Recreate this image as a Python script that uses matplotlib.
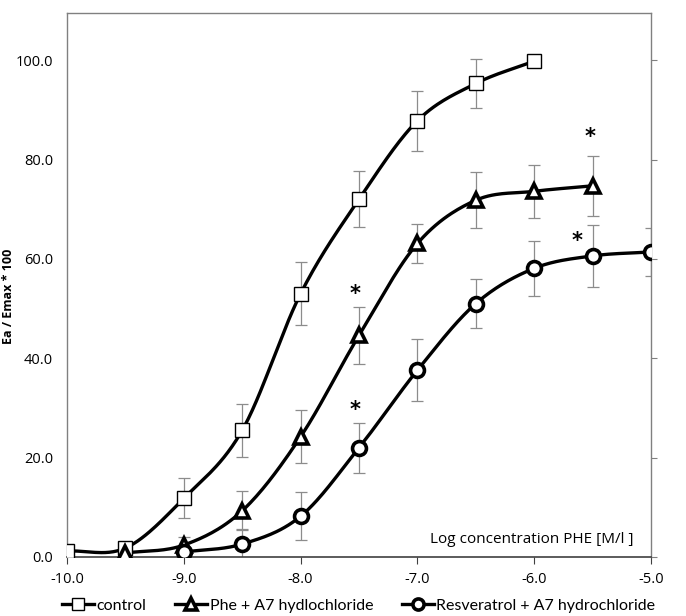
import matplotlib
matplotlib.use("Agg")
import matplotlib.pyplot as plt
import numpy as np

plt.rcParams["font.family"] = ["Open Sans", "DejaVu Sans"]

# log concentration PHE [M/l]
x_control = [-10.0, -9.5, -9.0, -8.5, -8.0, -7.5, -7.0, -6.5, -6.0]
y_control = [1.2, 1.8, 11.8, 25.5, 53.0, 72.0, 87.8, 95.3, 99.8]
e_control = [0.0, 0.0, 4.0, 5.3, 6.3, 5.6, 6.0, 5.0, 0.0]

x_phe = [-9.5, -9.0, -8.5, -8.0, -7.5, -7.0, -6.5, -6.0, -5.5]
y_phe = [0.8, 2.4, 9.3, 24.2, 44.6, 63.1, 71.8, 73.6, 74.7]
e_phe = [0.0, 1.6, 3.9, 5.3, 5.8, 3.9, 5.6, 5.3, 6.1]

x_res = [-9.0, -8.5, -8.0, -7.5, -7.0, -6.5, -6.0, -5.5, -5.0]
y_res = [1.0, 2.6, 8.2, 22.0, 37.6, 51.0, 58.1, 60.6, 61.4]
e_res = [0.0, 3.0, 4.8, 5.0, 6.2, 4.9, 5.5, 6.2, 4.9]

# significance marks (x, y)
star_x = [-7.53, -7.53, -5.52, -5.63]
star_y = [53.0, 29.5, 84.5, 63.5]

x_ticks = [-10.0, -9.0, -8.0, -7.0, -6.0, -5.0]
y_ticks = [0, 20, 40, 60, 80, 100]


def smooth(x, y, n=30):
    """Catmull-Rom curve through the points, like Excel's smoothed line."""
    x = np.asarray(x, float)
    y = np.asarray(y, float)
    px = np.concatenate([[2 * x[0] - x[1]], x, [2 * x[-1] - x[-2]]])
    py = np.concatenate([[2 * y[0] - y[1]], y, [2 * y[-1] - y[-2]]])
    t = np.linspace(0, 1, n)
    xs, ys = [], []
    for i in range(1, len(px) - 2):
        for p, out in ((px, xs), (py, ys)):
            p0, p1, p2, p3 = p[i - 1], p[i], p[i + 1], p[i + 2]
            out.append(0.5 * (2 * p1 + (-p0 + p2) * t
                              + (2 * p0 - 5 * p1 + 4 * p2 - p3) * t ** 2
                              + (-p0 + 3 * p1 - 3 * p2 + p3) * t ** 3))
    return np.concatenate(xs), np.concatenate(ys)


fig = plt.figure(figsize=(6.86, 6.16), dpi=100)
ax = fig.add_axes([0.0977, 0.0958, 0.8513, 0.8832])

series = [
    (x_control, y_control, e_control, "s", 1.0, 10, "control"),
    (x_phe, y_phe, e_phe, "^", 2.6, 10, "Phe + A7 hydlochloride"),
    (x_res, y_res, e_res, "o", 2.6, 10, "Resveratrol + A7 hydrochloride"),
]

handles = []
for xs, ys, es, mk, mew, ms, label in series:
    ax.errorbar(xs, ys, yerr=es, fmt="none", ecolor="#8c8c8c", elinewidth=0.9,
                capsize=4, capthick=0.9, zorder=2)
    sx, sy = smooth(xs, ys)
    ax.plot(sx, sy, color="black", linewidth=2.4, zorder=3, solid_capstyle="round")
    ax.plot(xs, ys, linestyle="none", marker=mk, markersize=ms, markerfacecolor="white",
            markeredgecolor="black", markeredgewidth=mew, zorder=4)
    h, = ax.plot([], [], color="black", linewidth=2.4, marker=mk, markersize=8,
                 markerfacecolor="white", markeredgecolor="black", markeredgewidth=mew)
    handles.append((h, label))

for sx_, sy_ in zip(star_x, star_y):
    ax.text(sx_, sy_, "*", ha="center", va="center", fontsize=15, fontweight="bold",
            family=["DejaVu Sans"])

ax.text(-5.15, 3.6, "Log concentration PHE [M/l ]", ha="right", va="center", fontsize=11)

ax.set_xlim(-10.0, -5.0)
ax.set_ylim(0, 109.5)
ax.set_xticks(x_ticks)
ax.set_xticklabels([f"{v:.1f}" for v in x_ticks], fontsize=10.5)
ax.set_yticks(y_ticks)
ax.set_yticklabels([f"{v:.1f}" for v in y_ticks], fontsize=10.5)
ax.tick_params(axis="y", which="both", left=False, right=True, length=4, color="#808080",
               direction="out", pad=6)
ax.tick_params(axis="x", length=5, color="#404040", direction="out", pad=6)
ax.set_ylabel("Ea / Emax * 100", fontsize=9, fontweight="bold")
ax.yaxis.set_label_coords(-0.089, 0.48)

for side in ["top", "right", "left"]:
    ax.spines[side].set_color("#808080")
    ax.spines[side].set_linewidth(1.0)
ax.spines["bottom"].set_color("#404040")
ax.spines["bottom"].set_linewidth(1.2)

fig.legend([h for h, _ in handles], [l for _, l in handles], loc="lower center",
           bbox_to_anchor=(0.523, -0.018), ncol=3, frameon=False,
           prop={"family": ["Lato", "DejaVu Sans"], "size": 11.5},
           handlelength=2.0, handletextpad=0.15, columnspacing=1.8)

fig.savefig("out.png", dpi=100)
